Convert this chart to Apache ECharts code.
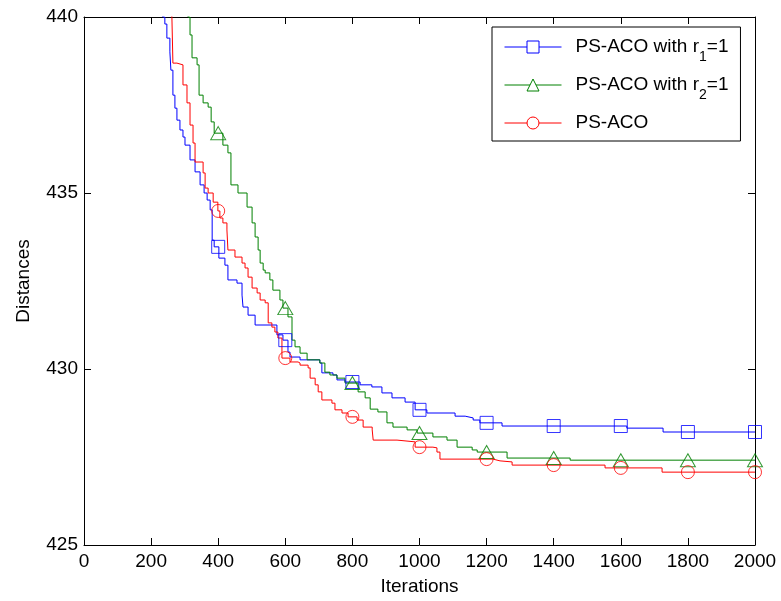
<!DOCTYPE html>
<html><head><meta charset="utf-8">
<script src="https://cdn.jsdelivr.net/npm/echarts@6/dist/echarts.min.js"></script>
<style>html,body{margin:0;padding:0;background:#fff}#c{width:781px;height:601px}</style>
</head><body><div id="c"></div>
<script>
const seriesNames = ['PS-ACO with r_1=1', 'PS-ACO with r_2=1', 'PS-ACO'];
const seriesColors = ['#0000ff', '#008000', '#ff0000'];
const xTickLabels = [0, 200, 400, 600, 800, 1000, 1200, 1400, 1600, 1800, 2000];
const yTickLabels = [425, 430, 435, 440];
const markerIter = [400, 600, 800, 1000, 1200, 1400, 1600, 1800, 2000];

const blueIter = [218,235,241,247,256,259,265,271,277,286,295,301,316,331,346,358,367,376,382,388,402,420,429,456,471,474,489,510,575,593,608,614,644,703,709,742,754,778,823,858,888,918,957,987,1022,1106,1136,1160,1180,1246,1618,1726,2000];
const blueVal = [440.34,440.00,439.80,439.40,439.01,438.49,437.78,437.41,437.07,436.79,436.59,436.36,435.94,435.60,435.23,435.00,434.80,434.52,433.66,433.47,433.15,432.95,432.53,432.44,432.10,431.76,431.53,431.25,430.97,430.82,430.48,430.34,430.26,430.17,429.89,429.83,429.69,429.63,429.55,429.49,429.32,429.18,429.06,428.84,428.75,428.66,428.61,428.55,428.47,428.38,428.32,428.21,428.21];

const greenIter = [301,310,316,322,337,343,355,370,379,388,414,429,438,459,486,501,510,519,525,534,540,554,563,584,593,608,620,629,644,665,703,718,733,754,778,817,838,853,876,903,921,963,993,1040,1082,1112,1157,1172,1261,1449,2000];
const greenVal = [440.34,440.00,439.49,438.84,438.64,437.78,437.56,437.44,437.02,436.70,436.36,436.14,435.23,435.00,434.60,434.15,433.75,433.38,433.01,432.81,432.73,432.53,432.24,431.96,431.73,431.48,430.82,430.63,430.45,430.26,430.17,429.91,429.83,429.74,429.60,429.35,429.18,428.86,428.78,428.47,428.35,428.27,428.18,428.07,427.98,427.78,427.70,427.64,427.47,427.41,427.41];

const redIter = [259,262,265,277,295,307,316,325,331,355,361,370,385,399,405,414,426,429,450,471,480,489,501,516,525,540,549,560,569,578,590,614,638,644,668,674,689,698,709,739,748,769,787,814,832,859,862,933,987,1040,1052,1061,1219,1240,1276,1553,1723,2000];
const redVal = [440.34,440.00,438.69,438.64,438.07,437.56,436.93,436.42,435.88,435.57,435.14,435.00,434.74,434.49,434.29,434.15,433.95,433.38,433.18,433.01,432.87,432.61,432.30,432.16,431.96,431.88,431.31,431.19,431.05,430.88,430.31,430.20,430.17,430.11,430.03,429.74,429.55,429.35,429.12,429.03,428.84,428.75,428.64,428.55,428.35,428.27,427.98,427.93,427.78,427.76,427.64,427.44,427.39,427.36,427.27,427.19,427.07,427.07];

const FONT = "'Liberation Sans', Arial, Helvetica, sans-serif";
const curves = [[blueIter, blueVal], [greenIter, greenVal], [redIter, redVal]];
const markerShapes = ['rect', 'triangle', 'circle'];
const markerSizes = [13, [15, 13], 13];

function pairs(it, v) { return it.map((x, i) => [x, v[i]]); }
function stepAt(it, v, t) { let r = v[0]; for (let i = 0; i < it.length; i++) { if (it[i] <= t) r = v[i]; } return r; }

const series = [];
curves.forEach((c, k) => {
  series.push({
    name: seriesNames[k], type: 'line', step: 'end', data: pairs(c[0], c[1]),
    showSymbol: false, symbol: markerShapes[k], color: seriesColors[k],
    lineStyle: { width: 1, color: seriesColors[k] }, clip: true, z: 2
  });
});
curves.forEach((c, k) => {
  series.push({
    name: 'm' + k, type: 'scatter', data: markerIter.map(t => [t, stepAt(c[0], c[1], t)]),
    symbol: markerShapes[k], symbolSize: markerSizes[k],
    itemStyle: { color: 'rgba(0,0,0,0)', borderColor: seriesColors[k], borderWidth: 1 }, z: 3
  });
});

const axisCommon = {
  type: 'value', splitLine: { show: false },
  axisLine: { show: true, onZero: false, lineStyle: { color: '#000', width: 1 } },
  axisTick: { show: true, inside: true, length: 7, lineStyle: { color: '#000' } }
};

const chart = echarts.init(document.getElementById('c'), null, { renderer: 'canvas' });
chart.setOption({
  animation: false,
  backgroundColor: '#fff',
  grid: { left: 84, top: 17, right: 26, bottom: 56, containLabel: false },
  xAxis: [
    Object.assign({}, axisCommon, {
      position: 'bottom', min: xTickLabels[0], max: xTickLabels[xTickLabels.length - 1], interval: 200,
      name: 'Iterations', nameLocation: 'middle', nameGap: 32,
      nameTextStyle: { fontFamily: FONT, fontSize: 19, color: '#000' },
      axisLabel: { fontFamily: FONT, fontSize: 19, color: '#000', margin: 7, formatter: v => String(v) }
    }),
    Object.assign({}, axisCommon, {
      position: 'top', min: xTickLabels[0], max: xTickLabels[xTickLabels.length - 1], interval: 200,
      axisLabel: { show: false }
    })
  ],
  yAxis: [
    Object.assign({}, axisCommon, {
      position: 'left', min: yTickLabels[0], max: yTickLabels[yTickLabels.length - 1], interval: 5,
      name: 'Distances', nameLocation: 'middle', nameGap: 51,
      nameTextStyle: { fontFamily: FONT, fontSize: 19, color: '#000' },
      axisLabel: { fontFamily: FONT, fontSize: 19, color: '#000', margin: 6, formatter: v => String(v) }
    }),
    Object.assign({}, axisCommon, {
      position: 'right', min: yTickLabels[0], max: yTickLabels[yTickLabels.length - 1], interval: 5,
      axisLabel: { show: false }
    })
  ],
  legend: {
    data: seriesNames.map((n, k) => ({
      name: n,
      itemStyle: { color: '#fff', borderColor: seriesColors[k], borderWidth: 1 },
      lineStyle: { color: seriesColors[k], width: 1 }
    })),
    orient: 'vertical', left: 492, top: 27,
    backgroundColor: '#fff', borderColor: '#000', borderWidth: 1, borderRadius: 0,
    padding: [3, 12, 1, 12], itemGap: 4, itemWidth: 57, itemHeight: 15,
    selectedMode: false,
    formatter: function (n) { return n.replace(/r_(\d)/, 'r{s|$1}'); },
    textStyle: {
      fontFamily: FONT, fontSize: 19, color: '#000', lineHeight: 34, padding: [0, 0, 0, 9],
      rich: { s: { fontFamily: FONT, fontSize: 14, lineHeight: 14, padding: [20, 0, 0, 0], color: '#000' } }
    }
  },
  series: series
});
</script></body></html>
